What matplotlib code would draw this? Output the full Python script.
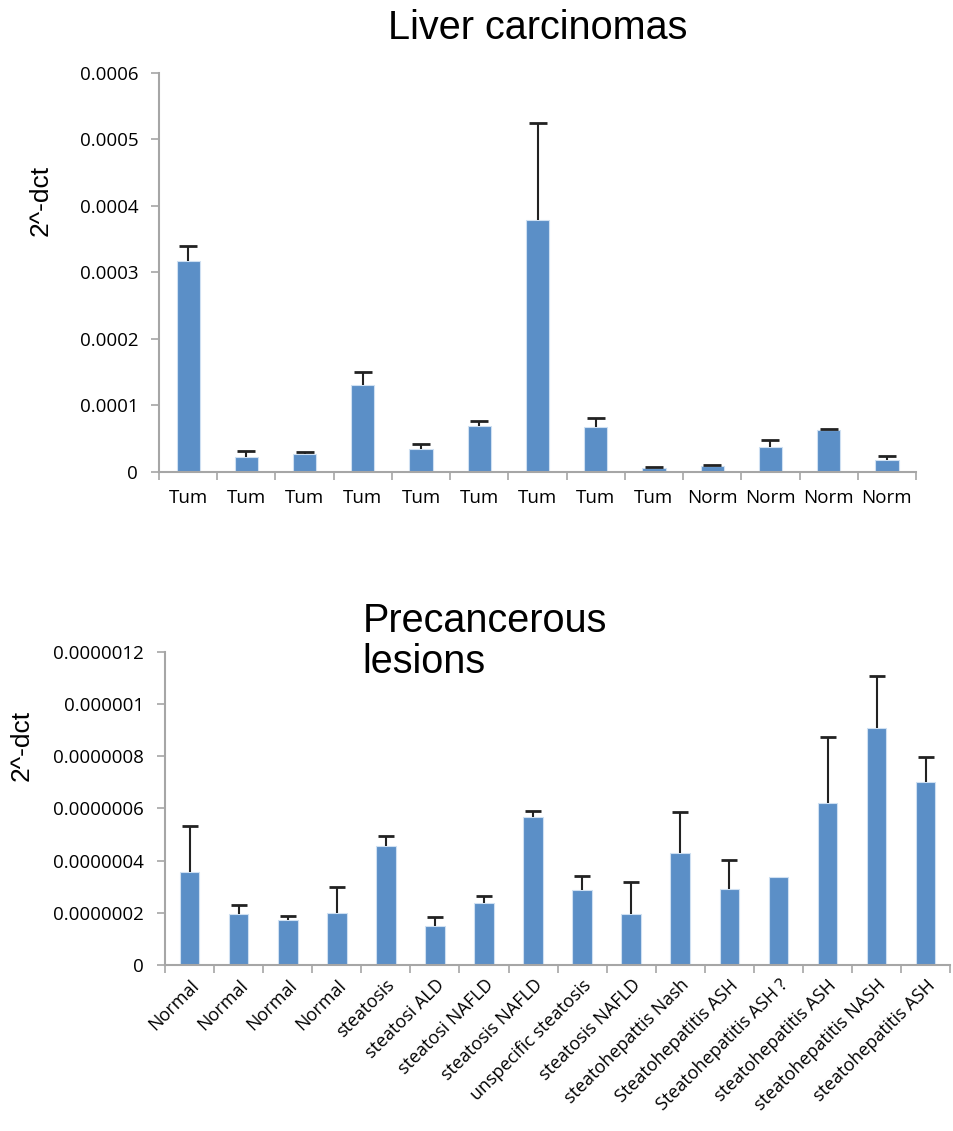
import matplotlib.pyplot as plt
import numpy as np

# data
liver_labels = ["Tum"] * 9 + ["Norm"] * 4
liver_values = [0.000317, 0.0000225, 0.000027, 0.000131, 0.0000345, 0.000069, 0.000379,
                0.0000677, 0.000006, 0.000009, 0.0000376, 0.0000632, 0.0000185]
liver_err = [0.000023, 0.000009, 0.000003, 0.000019, 0.000008, 0.0000076, 0.000145,
             0.000013, 0.000002, 0.000001, 0.0000104, 0.000001, 0.0000051]
liver_ticks = [0, 0.0001, 0.0002, 0.0003, 0.0004, 0.0005, 0.0006]
liver_ticklabels = ["0", "0.0001", "0.0002", "0.0003", "0.0004", "0.0005", "0.0006"]

pre_labels = ["Normal", "Normal", "Normal", "Normal", "steatosis", "steatosi ALD",
              "steatosi NAFLD", "steatosis NAFLD", "unspecific steatosis", "steatosis NAFLD",
              "steatohepattis Nash", "Steatohepatitis ASH", "Steatohepatitis ASH ?",
              "steatohepatitis ASH", "steatohepatitis NASH", "steatohepatitis ASH"]
pre_values = [0.358e-6, 0.196e-6, 0.172e-6, 0.200e-6, 0.456e-6, 0.151e-6, 0.237e-6, 0.568e-6,
              0.288e-6, 0.196e-6, 0.431e-6, 0.293e-6, 0.337e-6, 0.621e-6, 0.909e-6, 0.701e-6]
pre_err = [0.174e-6, 0.033e-6, 0.016e-6, 0.098e-6, 0.040e-6, 0.034e-6, 0.029e-6, 0.023e-6,
           0.055e-6, 0.123e-6, 0.154e-6, 0.110e-6, 0.0, 0.252e-6, 0.200e-6, 0.096e-6]
pre_ticks = [0, 0.2e-6, 0.4e-6, 0.6e-6, 0.8e-6, 1.0e-6, 1.2e-6]
pre_ticklabels = ["0", "0.0000002", "0.0000004", "0.0000006", "0.0000008", "0.000001", "0.0000012"]

bar_color = "#5b8fc7"
axis_color = "#a6a6a6"
tick_font = "Open Sans"
title_font = ["Liberation Sans", "DejaVu Sans"]

fig = plt.figure(figsize=(9.54, 11.31), dpi=100)


def excel_bars(ax, labels, values, err, ticks, ticklabels, capsize):
    n = len(values)
    x = np.arange(n)
    ax.bar(x, values, width=0.4, color=bar_color, edgecolor="#cfe0f2", linewidth=0.8, zorder=2)
    # plus-only error bars: stem + cap on top
    tops = np.array(values) + np.array(err)
    has_err = np.array(err) > 0
    ax.vlines(x[has_err], np.array(values)[has_err], tops[has_err], color="#222222",
              linewidth=1.5, zorder=3)
    ax.plot(x[has_err], tops[has_err], linestyle="none", marker="_", markersize=capsize,
            markeredgewidth=2, color="#222222", zorder=3)
    ax.set_xlim(-0.5, n - 0.5)
    ax.set_ylim(ticks[0], ticks[-1])
    ax.set_yticks(ticks)
    ax.set_yticklabels(ticklabels, fontfamily=tick_font, fontsize=13.5)
    ax.set_xticks(x)
    ax.set_xticks(np.arange(n + 1) - 0.5, minor=True)
    ax.tick_params(axis="x", which="major", length=0, pad=12)
    ax.tick_params(axis="x", which="minor", length=6, color=axis_color, width=1.2)
    ax.tick_params(axis="y", length=6, color=axis_color, width=1.2, pad=9)
    for s in ["top", "right"]:
        ax.spines[s].set_visible(False)
    for s in ["left", "bottom"]:
        ax.spines[s].set_color(axis_color)
        ax.spines[s].set_linewidth(1.5)
    ax.set_ylabel("2^-dct", fontfamily=title_font, fontsize=19)


# top chart
ax1 = fig.add_axes([0.1667, 0.5827, 0.7935, 0.3528])
excel_bars(ax1, liver_labels, liver_values, liver_err, liver_ticks, liver_ticklabels, 13)
ax1.set_xticklabels(liver_labels, fontfamily=tick_font, fontsize=13.5)
ax1.yaxis.set_label_coords(-0.141, 0.68)
fig.text(0.564, 0.975, "Liver carcinomas", fontfamily=title_font, fontsize=28.5,
         ha="center", va="center")

# bottom chart
ax2 = fig.add_axes([0.173, 0.1468, 0.823, 0.2767])
excel_bars(ax2, pre_labels, pre_values, pre_err, pre_ticks, pre_ticklabels, 12)
ax2.set_xticklabels(pre_labels, fontfamily=tick_font, fontsize=13, rotation=45,
                    ha="right", rotation_mode="anchor")
ax2.tick_params(axis="x", which="major", pad=8)
ax2.yaxis.set_label_coords(-0.167, 0.70)
fig.text(0.38, 0.4324, "Precancerous\nlesions", fontfamily=title_font, fontsize=28.5,
         ha="left", va="center", linespacing=1.1)

fig.savefig("out.png", dpi=100)
